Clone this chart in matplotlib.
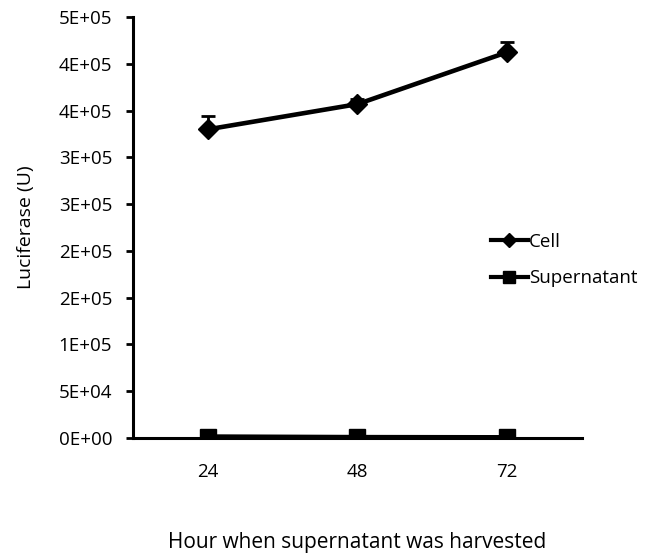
import matplotlib.pyplot as plt
from matplotlib.lines import Line2D

plt.rcParams['font.family'] = ['Open Sans', 'DejaVu Sans']

# dados
horas = ['24', '48', '72']
cell = [330000, 357000, 412500]
cell_err = [14000, 5000, 11000]
supernatant = [1500, 900, 700]
supernatant_err = [500, 300, 300]

y_ticks = [0, 50000, 100000, 150000, 200000, 250000, 300000, 350000, 400000, 450000]
y_labels = ['0E+00', '5E+04', '1E+05', '2E+05', '2E+05', '3E+05', '3E+05', '4E+05', '4E+05', '5E+05']

fig = plt.figure(figsize=(6.56, 5.53), dpi=100)
ax = fig.add_axes([0.2027, 0.208, 0.6845, 0.761])

x = [1, 2, 3]
# barras de erro só para cima, como no Excel
ax.errorbar(x, cell, yerr=[[0] * 3, cell_err], color='black', lw=3.3, marker='D', ms=10,
            capsize=5, capthick=2, elinewidth=2)
ax.errorbar(x, supernatant, yerr=[[0] * 3, supernatant_err], color='black', lw=3.3,
            marker='s', ms=12, capsize=5, capthick=2, elinewidth=2)

ax.set_xlim(0.5, 3.5)
ax.set_ylim(0, 450000)
ax.set_xticks(x)
ax.set_xticklabels(horas)
ax.set_yticks(y_ticks)
ax.set_yticklabels(y_labels)

ax.spines['top'].set_visible(False)
ax.spines['right'].set_visible(False)
ax.spines['left'].set_linewidth(2.2)
ax.spines['bottom'].set_linewidth(2.2)
ax.tick_params(axis='y', length=5, width=2, labelsize=13.5, pad=10)
ax.tick_params(axis='x', length=0, labelsize=13.5, pad=18)

ax.set_ylabel('Luciferase (U)', fontsize=14, labelpad=17)
ax.set_xlabel('Hour when supernatant was harvested', fontsize=15, labelpad=37)

handles = [
    Line2D([], [], color='black', lw=3, marker='D', ms=7),
    Line2D([], [], color='black', lw=3, marker='s', ms=8.5),
]
ax.legend(handles, ['Cell', 'Supernatant'], loc='center left', bbox_to_anchor=(0.722, 0.53),
          bbox_transform=fig.transFigure, frameon=False, fontsize=13.5, handlelength=2.0,
          handletextpad=0.05, labelspacing=1.0)

fig.savefig('out.png', dpi=100)
